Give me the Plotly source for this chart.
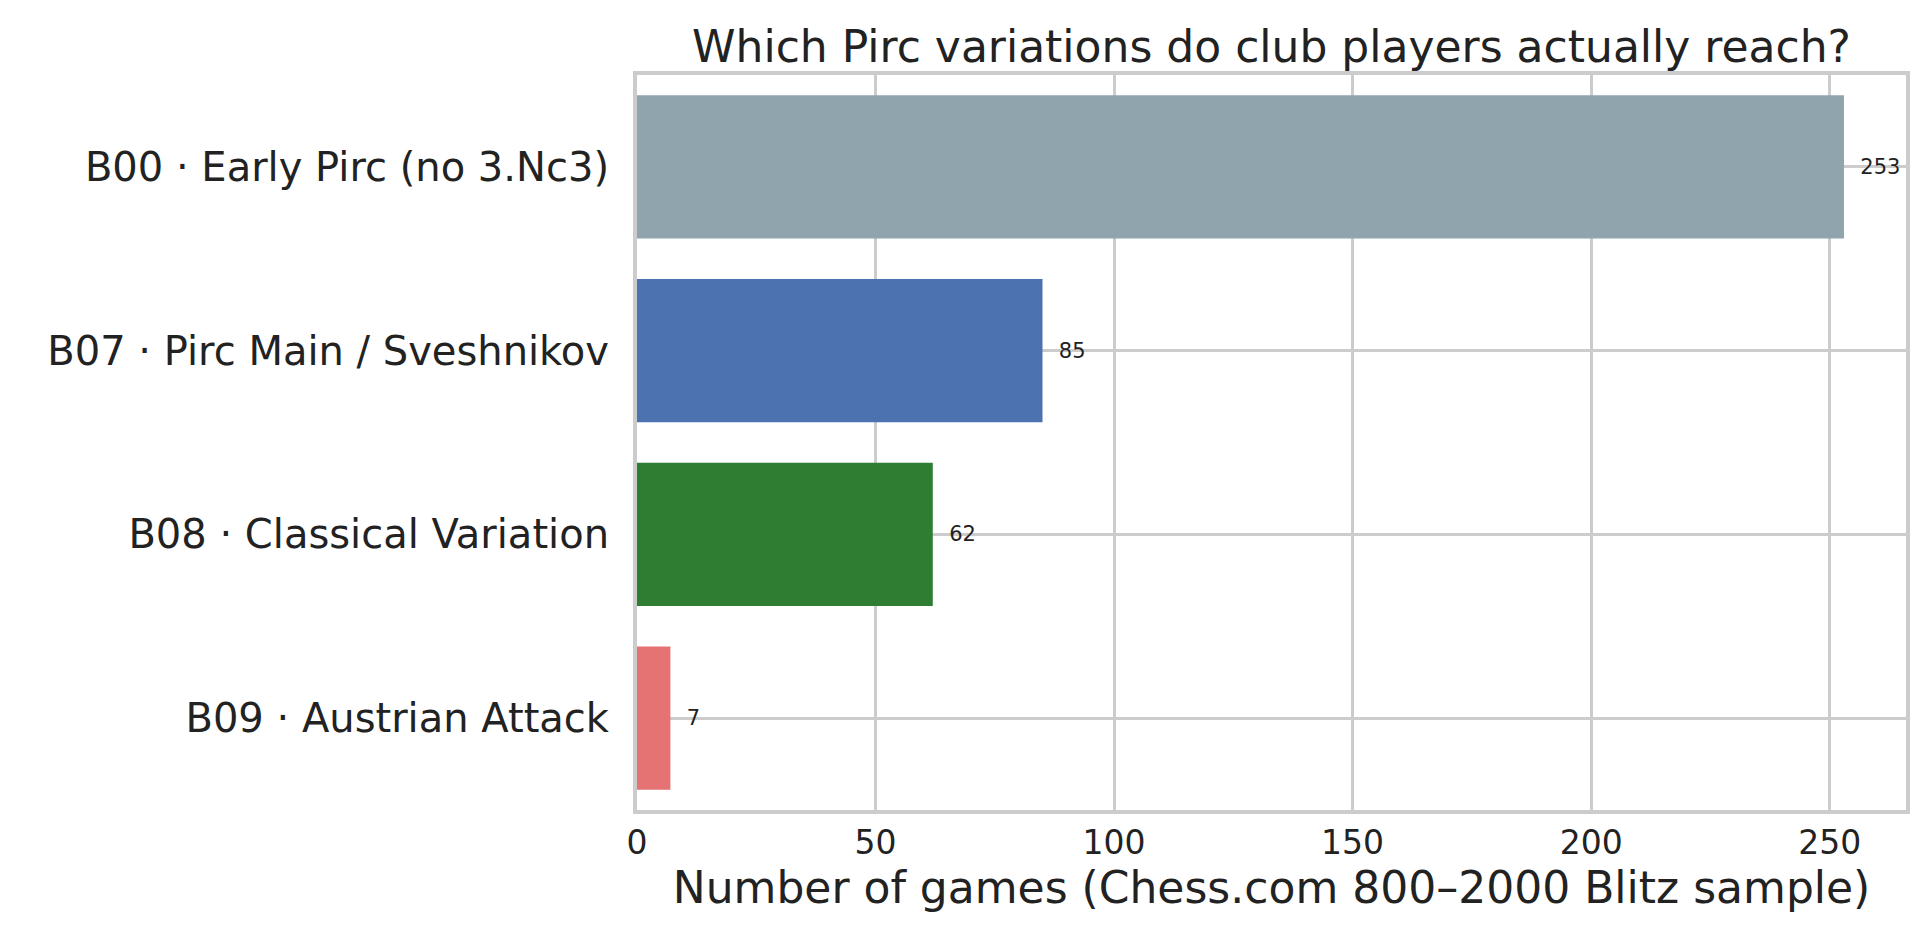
import plotly.graph_objects as go

variations = ["B00 · Early Pirc (no 3.Nc3)", "B07 · Pirc Main / Sveshnikov",
              "B08 · Classical Variation", "B09 · Austrian Attack"]
games = [253, 85, 62, 7]
colors = ["#90a4ae", "#4c72b0", "#2e7d32", "#e57373"]

fig = go.Figure(go.Bar(
    x=games, y=variations, orientation="h",
    marker=dict(color=colors, line=dict(width=0)),
    text=["  " + str(g) for g in games], textposition="outside",
    textfont=dict(size=21, color="#222222"), cliponaxis=False,
))

fig.update_layout(
    width=1918, height=943, plot_bgcolor="white", paper_bgcolor="white",
    font=dict(family="DejaVu Sans", color="#222222"),
    title=dict(text="Which Pirc variations do club players actually reach?",
               x=0.5, xanchor="center", xref="paper", y=0.959, yanchor="middle",
               font=dict(size=44)),
    margin=dict(l=629, r=20, t=67, b=141),
    bargap=0.22, showlegend=False,
)
fig.update_xaxes(range=[0, 266], tickvals=[0, 50, 100, 150, 200, 250],
                 showgrid=True, gridcolor="#cccccc", gridwidth=3,
                 showline=True, linecolor="#cccccc", linewidth=4, mirror=True,
                 zeroline=False, tickfont=dict(size=33), ticks="",
                 title=dict(text="Number of games (Chess.com 800–2000 Blitz sample)",
                            font=dict(size=44), standoff=8))
fig.update_yaxes(autorange="reversed", showgrid=True, gridcolor="#cccccc", gridwidth=3,
                 showline=True, linecolor="#cccccc", linewidth=4, mirror=True,
                 tickfont=dict(size=40), ticks="", ticklabelstandoff=16)

fig.write_html("out.html")
